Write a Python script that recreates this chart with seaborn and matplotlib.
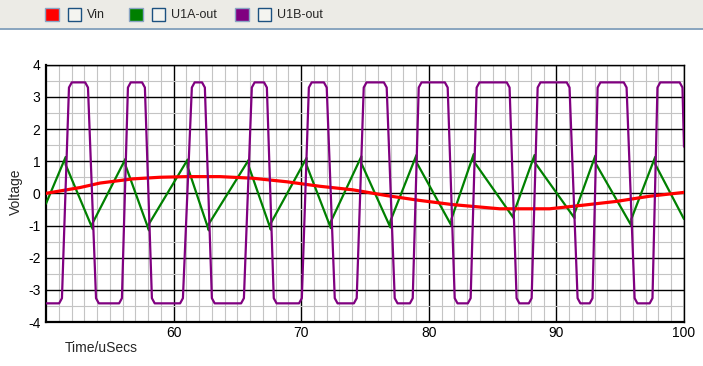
import numpy as np
import pandas as pd
import seaborn as sns
import matplotlib.pyplot as plt
from matplotlib.patches import Rectangle
from matplotlib.lines import Line2D
from matplotlib.ticker import MultipleLocator

# Vin (red)
vin_t = [50.0, 52.66, 54.23, 56.81, 58.93, 61.04, 63.63, 66.21, 68.87, 71.46,
         74.04, 76.70, 79.29, 81.87, 85.55, 89.47, 92.05, 94.71, 97.30, 100.0]
vin_v = [0.0, 0.18, 0.32, 0.45, 0.50, 0.52, 0.52, 0.47, 0.36, 0.22,
         0.11, -0.07, -0.22, -0.35, -0.48, -0.48, -0.37, -0.25, -0.09, 0.03]

# U1A-out (green) triangle: turn times, levels before/after each turn
tri_start = -0.32
tri_end = -0.80
peak_t = [51.54, 56.24, 61.10, 65.90, 70.42, 74.72, 79.03, 83.52, 88.29, 93.05, 97.74]
peak_top = [1.13, 1.08, 1.05, 1.05, 1.10, 1.15, 1.19, 1.22, 1.19, 1.17, 1.13]
peak_after = [0.89, 0.86, 0.82, 0.83, 0.88, 0.93, 0.97, 1.00, 0.97, 0.95, 0.91]
trough_t = [53.66, 58.07, 62.76, 67.62, 72.32, 76.99, 81.77, 86.65, 91.42, 95.87]
trough_bot = [-1.11, -1.15, -1.15, -1.13, -1.08, -1.06, -1.00, -0.77, -0.77, -1.00]
trough_after = [-0.92, -0.95, -0.95, -0.93, -0.88, -0.86, -0.80, -0.62, -0.62, -0.80]

# U1B-out (purple) square wave edges
sq_low = -3.42
sq_high = 3.45
rise_start = [51.25, 55.95, 60.73, 65.51, 70.05, 74.35, 78.74, 83.28, 88.06, 92.83, 97.53]
rise_end = [51.80, 56.42, 61.43, 66.13, 70.60, 74.90, 79.21, 83.75, 88.53, 93.23, 97.92]
fall_start = [53.29, 57.75, 62.45, 67.31, 72.00, 76.70, 81.48, 86.33, 91.03, 95.50, 99.88]
fall_end = [53.92, 58.30, 63.00, 67.85, 72.63, 77.33, 82.03, 86.88, 91.66, 96.13]
sq_last = 1.45

# corner rounding of the square wave (style)
rd_t, rd_v = 0.22, 0.16

# build the traces
tri_t, tri_v = [50.0], [tri_start]
for i in range(len(peak_t)):
    tri_t += [peak_t[i], peak_t[i]]
    tri_v += [peak_top[i], peak_after[i]]
    if i < len(trough_t):
        tri_t += [trough_t[i], trough_t[i]]
        tri_v += [trough_bot[i], trough_after[i]]
tri_t.append(100.0)
tri_v.append(tri_end)

sq_t, sq_v = [50.0], [sq_low]
for i in range(len(rise_start)):
    sq_t += [rise_start[i] - rd_t, rise_start[i], rise_end[i], rise_end[i] + rd_t,
             fall_start[i] - rd_t, fall_start[i]]
    sq_v += [sq_low, sq_low + rd_v, sq_high - rd_v, sq_high,
             sq_high, sq_high - rd_v]
    if i < len(fall_end):
        sq_t += [fall_end[i], fall_end[i] + rd_t]
        sq_v += [sq_low + rd_v, sq_low]
sq_t.append(100.0)
sq_v.append(sq_last)

df_vin = pd.DataFrame({"t": vin_t, "v": vin_v})
df_tri = pd.DataFrame({"t": tri_t, "v": tri_v})
df_sq = pd.DataFrame({"t": sq_t, "v": sq_v})

sns.set_style("white")
plt.rcParams["font.family"] = ["Liberation Sans", "DejaVu Sans"]
plt.rcParams["axes.unicode_minus"] = False

W, H = 703, 366
fig = plt.figure(figsize=(W / 100, H / 100), dpi=100)
fig.patch.set_facecolor("white")

# legend bar on top
fig.patches.append(Rectangle((0, 1 - 28 / H), 1, 28 / H, transform=fig.transFigure,
                             facecolor="#ecebe6", edgecolor="none", zorder=0))
fig.lines.append(Line2D([0, 1], [1 - 28.5 / H, 1 - 28.5 / H], transform=fig.transFigure,
                        color="#7f9db9", lw=1.3))
legend_items = [("Vin", "#ff0000", 45), ("U1A-out", "#008000", 129), ("U1B-out", "#800080", 235)]
for name, col, x0 in legend_items:
    fig.patches.append(Rectangle((x0 / W, 1 - 20.5 / H), 14 / W, 12 / H, transform=fig.transFigure,
                                 facecolor=col, edgecolor="#8aa4c4", lw=1))
    fig.patches.append(Rectangle(((x0 + 23) / W, 1 - 20.5 / H), 12.5 / W, 12 / H,
                                 transform=fig.transFigure,
                                 facecolor="#f4f4f0", edgecolor="#1c5180", lw=1))
    fig.text((x0 + 42) / W, 1 - 14.5 / H, name, fontsize=9, va="center", ha="left")

ax = fig.add_axes([46 / W, 1 - 322 / H, (684 - 46) / W, (322 - 64.7) / H])
ax.set_facecolor("white")

sns.lineplot(data=df_tri, x="t", y="v", ax=ax, color="#008000", lw=1.6, sort=False,
             estimator=None, zorder=3)
sns.lineplot(data=df_vin, x="t", y="v", ax=ax, color="#ff0000", lw=2.3, sort=False,
             estimator=None, zorder=4)
sns.lineplot(data=df_sq, x="t", y="v", ax=ax, color="#800080", lw=1.6, sort=False,
             estimator=None, zorder=5)

ax.set_xlim(50, 100)
ax.set_ylim(-4, 4)
ax.set_xticks([60, 70, 80, 90, 100])
ax.set_yticks(range(-4, 5))
ax.xaxis.set_minor_locator(MultipleLocator(1))
ax.yaxis.set_minor_locator(MultipleLocator(0.5))
ax.grid(which="minor", color="#c4c4c4", lw=0.8, zorder=1)
ax.grid(which="major", color="black", lw=1.0, zorder=2)
ax.set_axisbelow(True)
ax.tick_params(which="both", length=0, labelsize=10, colors="black")
ax.tick_params(axis="x", pad=3)
ax.tick_params(axis="y", pad=4)
ax.set_xlabel("")
ax.set_ylabel("")
for side in ["top", "right"]:
    ax.spines[side].set_color("black")
    ax.spines[side].set_linewidth(1.0)
for side in ["left", "bottom"]:
    ax.spines[side].set_color("black")
    ax.spines[side].set_linewidth(1.6)

fig.text(65 / W, 1 - 348 / H, "Time/uSecs", fontsize=10, va="center", ha="left")
fig.text(16 / W, 1 - 192 / H, "Voltage", fontsize=10, va="center", ha="center", rotation=90)

fig.savefig("out.png", dpi=100)
